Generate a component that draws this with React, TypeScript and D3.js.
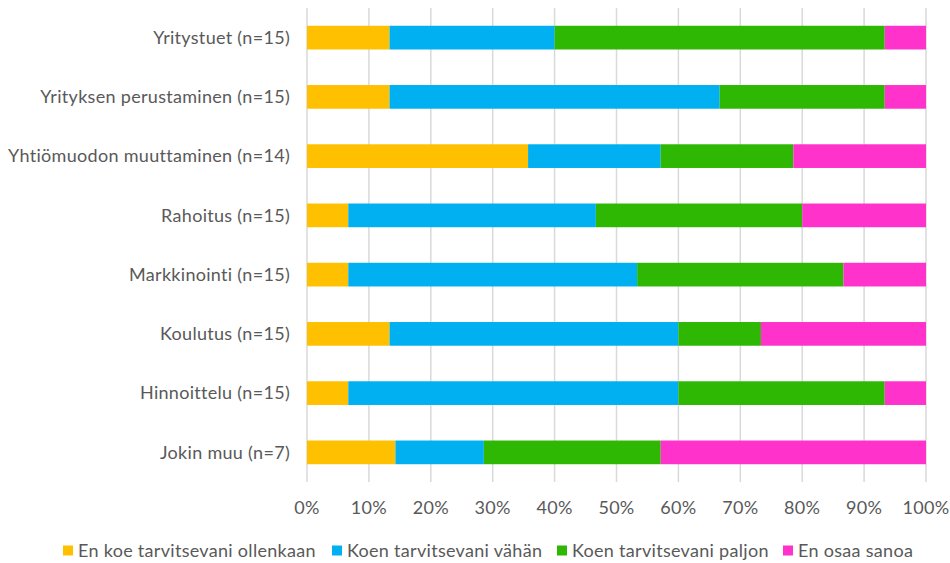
import React from 'react';
import * as d3 from 'd3';

const categories = [
  'Yritystuet (n=15)',
  'Yrityksen perustaminen (n=15)',
  'Yhtiömuodon muuttaminen (n=14)',
  'Rahoitus (n=15)',
  'Markkinointi (n=15)',
  'Koulutus (n=15)',
  'Hinnoittelu (n=15)',
  'Jokin muu (n=7)',
];

const seriesNames = [
  'En koe tarvitsevani ollenkaan',
  'Koen tarvitsevani vähän',
  'Koen tarvitsevani paljon',
  'En osaa sanoa',
];

// counts per category, in series order
const enKoe = [2, 2, 5, 1, 1, 2, 1, 1];
const vahan = [4, 8, 3, 6, 7, 7, 8, 1];
const paljon = [8, 4, 3, 5, 5, 2, 5, 2];
const enOsaa = [1, 1, 3, 3, 2, 4, 1, 3];

const colors = ['#FFC000', '#00B0F0', '#2EB804', '#FF33CC'];
const tickValues = [0, 0.1, 0.2, 0.3, 0.4, 0.5, 0.6, 0.7, 0.8, 0.9, 1];

const width = 950;
const height = 563;
const font = 'Lato, "Open Sans", sans-serif';
const fontSize = 18;

export default function App() {
  const rows = categories.map((name, i) => {
    const vals = [enKoe[i], vahan[i], paljon[i], enOsaa[i]];
    const total = d3.sum(vals);
    return { name, vals: vals.map((v) => v / total) };
  });

  const x = d3.scaleLinear().domain([0, 1]).range([307, 926]);
  const y = d3.scaleBand().domain(categories).range([8, 482]).paddingInner(0.6).paddingOuter(0.3);

  const stack = d3.stack<{ name: string; vals: number[] }, number>()
    .keys([0, 1, 2, 3])
    .value((d, k) => d.vals[k]);
  const layers = stack(rows);

  const legendX = [63, 332, 557, 783];

  return (
    <svg width={width} height={height} style={{ position: 'absolute', left: 0, top: 0 }}>
      <rect width={width} height={height} fill="#fff" />
      {tickValues.map((t) => (
        <line key={t} x1={x(t)} x2={x(t)} y1={8} y2={482} stroke="#D9D9D9" strokeWidth={1.5} />
      ))}
      {layers.map((layer, si) => (
        <g key={si} fill={colors[si]}>
          {layer.map((d, i) => (
            <rect
              key={i}
              x={x(d[0])}
              width={x(d[1]) - x(d[0])}
              y={y(categories[i])}
              height={y.bandwidth()}
            />
          ))}
        </g>
      ))}
      <g fontFamily={font} fontSize={fontSize} fill="#595959" letterSpacing={0.3}>
        {categories.map((c) => (
          <text
            key={c}
            x={290}
            y={(y(c) as number) + y.bandwidth() / 2}
            dy="0.35em"
            textAnchor="end"
          >
            {c}
          </text>
        ))}
        {tickValues.map((t) => (
          <text key={t} x={x(t)} y={508} dy="0.35em" textAnchor="middle">
            {d3.format('.0%')(t)}
          </text>
        ))}
        {seriesNames.map((s, i) => (
          <g key={s} transform={`translate(${legendX[i]},550.5)`}>
            <rect x={0} y={-5} width={10} height={10} fill={colors[i]} />
            <text x={15} dy="0.35em">
              {s}
            </text>
          </g>
        ))}
      </g>
    </svg>
  );
}
